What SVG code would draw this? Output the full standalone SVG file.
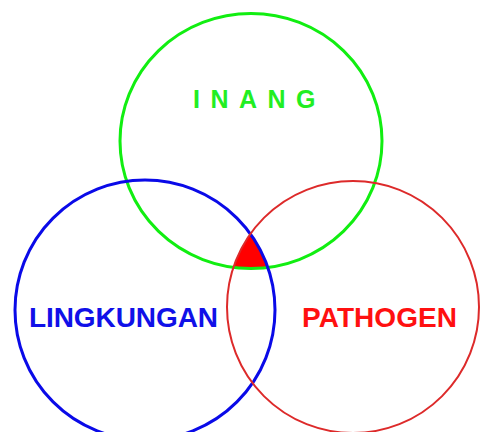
<svg xmlns="http://www.w3.org/2000/svg" width="481" height="432" viewBox="0 0 481 432">
<style>
.lbl{font-family:"Liberation Sans",Arial,sans-serif;font-weight:bold}
.c{fill:none}
</style>
<defs>
<clipPath id="cpBlue"><circle cx="145" cy="310" r="130"/></clipPath>
<clipPath id="cpRed" clip-path="url(#cpBlue)"><circle cx="353" cy="307" r="126"/></clipPath>
</defs>
<rect width="481" height="432" fill="#fff"/>
<g id="overlap">
<ellipse cx="251" cy="141" rx="131" ry="128" fill="#ff0000" clip-path="url(#cpRed)"/>
</g>
<g id="inang">
<ellipse class="c" cx="251" cy="141" rx="131" ry="127.5" stroke="#11ee11" stroke-width="3"/>
<text class="lbl" x="193" y="108" font-size="25" letter-spacing="10.5" fill="#22ee22">INANG</text>
</g>
<g id="lingkungan">
<circle class="c" cx="145" cy="310" r="130" stroke="#0a0ae8" stroke-width="3"/>
<text class="lbl" x="29" y="327" font-size="28" textLength="189" fill="#1010e8">LINGKUNGAN</text>
</g>
<g id="pathogen">
<circle class="c" cx="353" cy="307" r="126" stroke="#dd2a2a" stroke-width="2"/>
<text class="lbl" x="302" y="327" font-size="28" textLength="155" fill="#ff1010">PATHOGEN</text>
</g>
<g id="connectors"></g>
</svg>
